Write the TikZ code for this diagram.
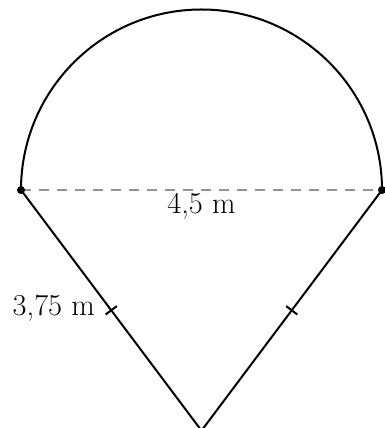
\documentclass[tikz,border=0pt]{standalone}
\usetikzlibrary{calc}
\begin{document}
\begin{tikzpicture}[x=0.5pt,y=0.5pt,
  edge/.style={line width=1pt,black},
  dimline/.style={line width=1pt,gray!85!white,dash pattern=on 5pt off 4pt},
  lbl/.style={font=\fontsize{15.2}{17}\selectfont,inner sep=0pt},
  dotmark/.style={circle,fill=black,inner sep=0pt,minimum size=4pt}]
\useasboundingbox (0,0) rectangle (385,428);
\coordinate (A) at (21,238);
\coordinate (B) at (382,238);
\coordinate (O) at (201.5,238);
\coordinate (C) at (201.5,-2.6);
\coordinate (M1) at ($(A)!0.5!(C)$);
\coordinate (M2) at ($(B)!0.5!(C)$);
\draw[dimline] (A) -- (B);
\draw[edge] (A) arc[start angle=180,end angle=0,radius=180.5];
\draw[edge] (A) -- (C) -- (B);
\draw[edge] ($(M1)!3.5pt!90:(A)$) -- ($(M1)!3.5pt!-90:(A)$);
\draw[edge] ($(M2)!3.5pt!90:(B)$) -- ($(M2)!3.5pt!-90:(B)$);
\node[dotmark] (dA) at (A) {};
\node[dotmark] (dB) at (B) {};
\node[lbl,anchor=east] (l1) at ($(M1)+(-16,2)$) {3,75 m};
\node[lbl] (l2) at ($(O)+(0,-16)$) {4,5 m};
\end{tikzpicture}
\end{document}
